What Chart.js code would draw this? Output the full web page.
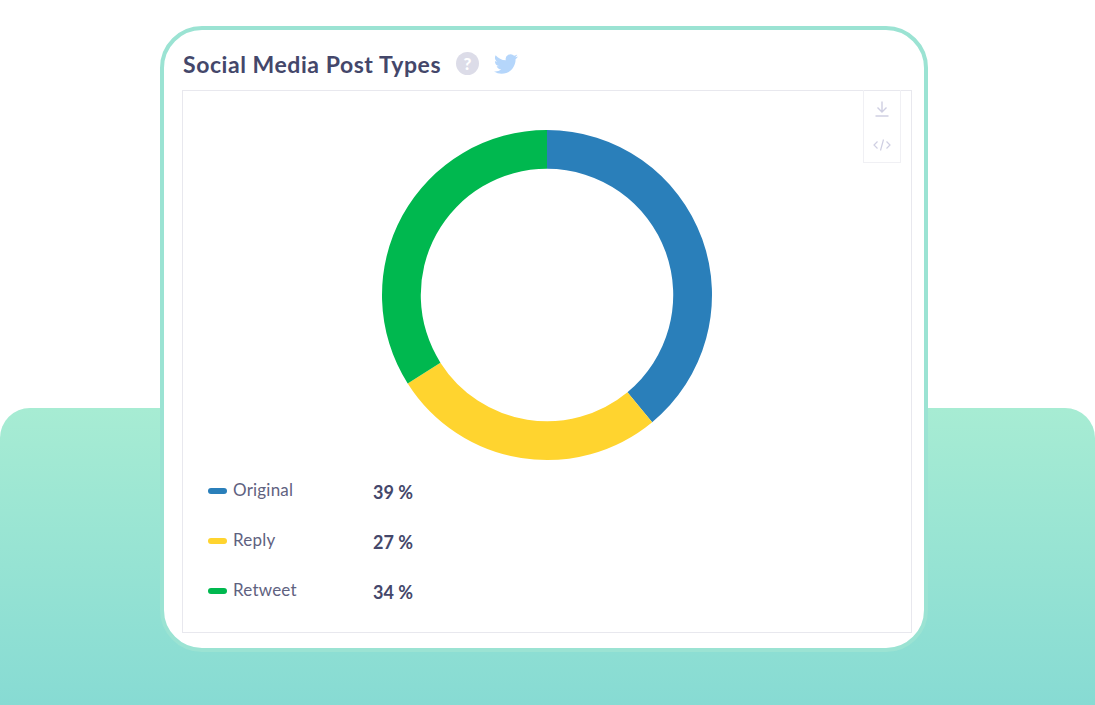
<!DOCTYPE html>
<html>
<head>
<meta charset="utf-8">
<title>Social Media Post Types</title>
<script src="https://cdn.jsdelivr.net/npm/chart.js@4/dist/chart.umd.min.js"></script>
<style>
    html, body { margin: 0; padding: 0; background: #fff; overflow: hidden; }
    body { width: 1095px; height: 705px; position: relative; font-family: "Lato", sans-serif; color: #44476a; }
    .band { position: absolute; left: 0; top: 408px; width: 1095px; height: 297px; border-radius: 30px 30px 0 0; background: linear-gradient(180deg, #a7ecd3 0%, #87dbd3 100%); }
    .card { position: absolute; left: 160px; top: 26px; width: 760px; height: 618px; border: 4px solid #9be3d3; border-radius: 42px; background: #fff; }
    .title { position: absolute; left: 183px; top: 49px; font-size: 23px; line-height: 30px; font-weight: 700; letter-spacing: 0.55px; color: #44476a; white-space: nowrap; }
    .icon { position: absolute; }
    .frame { position: absolute; left: 182px; top: 90px; width: 728px; height: 541px; border: 1px solid #e8e8ee; }
    .tools { position: absolute; left: 863px; top: 90px; width: 36px; height: 72px; border: 1px solid #f0f0f4; border-top: 0; }
    #donut { position: absolute; left: 380px; top: 128px; width: 334px; height: 334px; }
    .row { position: absolute; left: 208px; height: 20px; line-height: 20px; font-size: 17px; color: #5f627f; white-space: nowrap; }
    .row i { position: absolute; left: 0; top: 7px; width: 19px; height: 6px; border-radius: 3px; }
    .row span { position: absolute; left: 25px; top: -1px; letter-spacing: 0.2px; }
    .row b { position: absolute; left: 165px; top: 1px; font-size: 18px; color: #44476a; font-weight: 700; }
</style>
</head>
<body>
<div class="band"></div>
<div class="card"></div>
<div class="title">Social Media Post Types</div>
<svg class="icon" style="left:456px;top:52px" width="23" height="23" viewBox="0 0 23 23">
    <circle cx="11.5" cy="11.5" r="11.5" fill="#dcdce8"/>
    <text x="11.5" y="17.5" text-anchor="middle" font-family="Lato" font-weight="900" font-size="17" fill="#fff">?</text>
</svg>
<svg class="icon" style="left:494px;top:52px" width="24" height="24" viewBox="0 0 24 24">
    <path fill="#b5d6fb" d="M23.95 4.57a10 10 0 0 1-2.82.77 4.96 4.96 0 0 0 2.16-2.72c-.95.55-2 .95-3.12 1.18a4.92 4.92 0 0 0-8.38 4.48C7.69 8.1 4.07 6.13 1.64 3.16a4.82 4.82 0 0 0-.67 2.48c0 1.71.87 3.21 2.19 4.1a4.9 4.9 0 0 1-2.23-.62v.06a4.92 4.92 0 0 0 3.95 4.83 5 5 0 0 1-2.21.08 4.94 4.94 0 0 0 4.6 3.42A9.87 9.87 0 0 1 0 19.54a14 14 0 0 0 7.56 2.21c9.05 0 14-7.5 14-13.98 0-.21 0-.42-.02-.63a9.94 9.94 0 0 0 2.46-2.55z"/>
</svg>
<div class="frame"></div>
<div class="tools"></div>
<svg class="icon" style="left:873px;top:100px" width="18" height="18" viewBox="0 0 18 18" fill="none" stroke="#cfcfe2" stroke-width="1.4">
    <path d="M9 1.5v10M4.5 7.5L9 12l4.5-4.5M2.5 16h13"/>
</svg>
<svg class="icon" style="left:873px;top:137px" width="18" height="16" viewBox="0 0 18 16" fill="none" stroke="#cfcfe2" stroke-width="1.2">
    <path d="M4.5 4.5L1 8l3.500 3.500M13.500 4.500L17 8l-3.500 3.500M10.500 2.500l-3 11"/>
</svg>
<canvas id="donut" width="334" height="334"></canvas>
<div id="legend"></div>
<script>
const labels = ['Original', 'Reply', 'Retweet'];
const values = [39, 27, 34];
const colors = ['#2a7fba', '#ffd42f', '#00b84f'];
const legendTops = [481, 531, 581];

document.getElementById('legend').innerHTML = labels.map((l, i) =>
    `<div class="row" style="top:${legendTops[i]}px"><i style="background:${colors[i]}"></i><span>${l}</span><b>${values[i]} %</b></div>`
).join('');

new Chart(document.getElementById('donut'), {
    type: 'doughnut',
    data: { labels: labels, datasets: [{ data: values, backgroundColor: colors, borderWidth: 0 }] },
    options: {
        responsive: false,
        animation: false,
        cutout: '76.5%',
        layout: { padding: 2 },
        plugins: { legend: { display: false }, tooltip: { enabled: false } }
    }
});
</script>
</body>
</html>
